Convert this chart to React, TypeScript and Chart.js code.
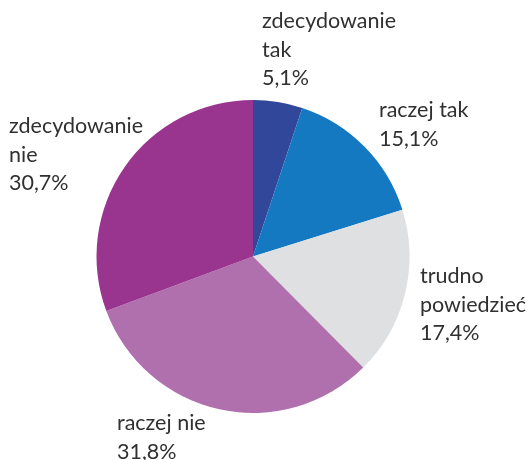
import React, { useEffect, useRef } from "react";
import { Chart, registerables } from "chart.js";

Chart.register(...registerables);

const categories = ["zdecydowanie tak", "raczej tak", "trudno powiedzieć", "raczej nie", "zdecydowanie nie"];
const labelLines = [
  ["zdecydowanie", "tak", "5,1%"],
  ["raczej tak", "15,1%"],
  ["trudno", "powiedzieć", "17,4%"],
  ["raczej nie", "31,8%"],
  ["zdecydowanie", "nie", "30,7%"],
];
const values = [5.1, 15.1, 17.4, 31.8, 30.7];
const colors = ["#31479a", "#1479c0", "#dfe0e2", "#b070ae", "#9a358f"];
// label anchor offsets (left x, first baseline) from pie centre
const labelOffsets = [
  [9, -228.5],
  [126, -139.5],
  [167, 26.5],
  [-136, 173.5],
  [-244, -123.5],
];

const labelPlugin = {
  id: "sliceLabels",
  afterDraw(chart: any) {
    const ctx = chart.ctx;
    const arc = chart.getDatasetMeta(0).data[0];
    if (!arc) return;
    const cx = arc.x;
    const cy = arc.y;
    ctx.save();
    ctx.font = "400 21.5px Lato";
    ctx.fillStyle = "#303030";
    ctx.textAlign = "left";
    ctx.textBaseline = "alphabetic";
    labelLines.forEach((lines, i) => {
      const [dx, dy] = labelOffsets[i];
      lines.forEach((t, j) => {
        ctx.fillText(t, cx + dx, cy + dy + j * 28.5);
      });
    });
    ctx.restore();
  },
};

export default function App() {
  const ref = useRef<HTMLCanvasElement>(null);
  useEffect(() => {
    const chart = new Chart(ref.current!, {
      type: "pie",
      data: {
        labels: categories,
        datasets: [
          {
            data: values,
            backgroundColor: colors,
            borderWidth: 0,
          },
        ],
      },
      options: {
        animation: false,
        responsive: false,
        layout: { padding: { left: 96.5, right: 121.5, top: 100, bottom: 47 } },
        plugins: { legend: { display: false }, tooltip: { enabled: false } },
      },
      plugins: [labelPlugin],
    });
    return () => chart.destroy();
  }, []);
  return (
    <div style={{ position: "absolute", left: 0, top: 0, width: 531, height: 460, background: "#fff" }}>
      <canvas ref={ref} width={531} height={460} />
    </div>
  );
}
